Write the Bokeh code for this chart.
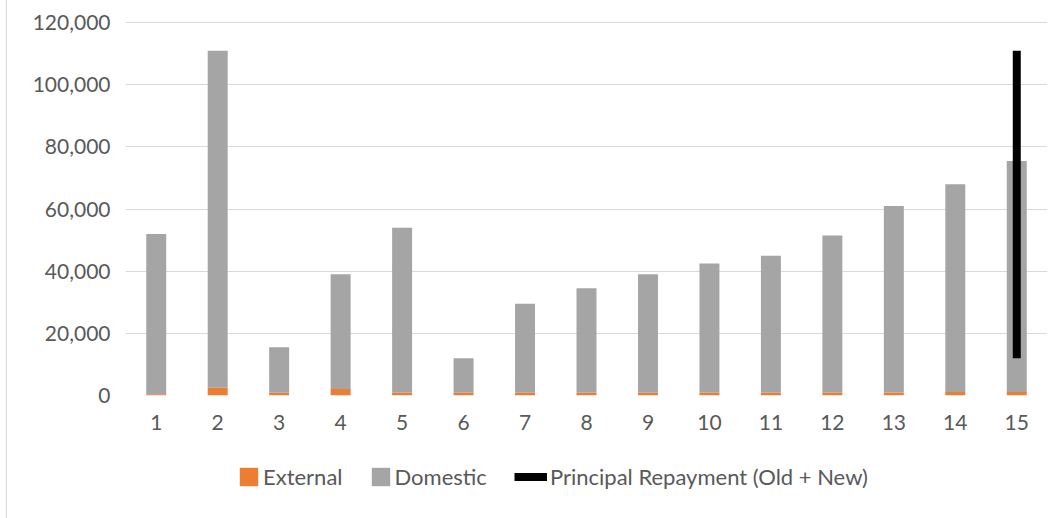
from bokeh.plotting import figure
from bokeh.layouts import column
from bokeh.models import ColumnDataSource, Range1d, FixedTicker, NumeralTickFormatter, Legend, LegendItem
from bokeh.embed import file_html
from bokeh.resources import INLINE

# ---- data ----
years = [1, 2, 3, 4, 5, 6, 7, 8, 9, 10, 11, 12, 13, 14, 15]
external = [400, 2500, 900, 2100, 900, 900, 900, 900, 900, 900, 900, 900, 1000, 1100, 1100]
domestic = [51600, 108500, 14600, 36900, 53100, 11100, 28600, 33600, 38100, 41600, 44100, 50600, 60000, 66900, 74400]
principal_x = [15, 15]
principal_y = [12000, 111000]
y_ticks = [0, 20000, 40000, 60000, 80000, 100000, 120000]

TEXT = "#595959"
FONT = "Lato"
COLORS = ["#ED7D31", "#A5A5A5"]
BORDER = {"border-left": "1px solid #d9d9d9"}

src = ColumnDataSource(dict(year=years, External=external, Domestic=domestic))

# ---- main chart ----
p = figure(width=1056, height=455, output_backend="svg", toolbar_location=None,
           x_range=Range1d(0.5, 15.5), y_range=Range1d(0, 120400),
           min_border_left=118, min_border_right=16, min_border_top=21, min_border_bottom=60)
p.styles = BORDER
p.outline_line_color = None
p.border_fill_color = "white"

p.vbar_stack(["External", "Domestic"], x="year", width=0.325, source=src,
             color=COLORS, line_color=None)
p.line(principal_x, principal_y, line_color="black", line_width=8, line_cap="butt")

p.xgrid.grid_line_color = None
p.ygrid.grid_line_color = "#D9D9D9"
p.ygrid.grid_line_width = 1
p.ygrid.ticker = FixedTicker(ticks=y_ticks)

p.yaxis.ticker = FixedTicker(ticks=y_ticks)
p.yaxis.formatter = NumeralTickFormatter(format="0,0")
p.xaxis.ticker = FixedTicker(ticks=years)
for ax in (p.xaxis, p.yaxis):
    ax.axis_line_color = None
    ax.major_tick_line_color = None
    ax.minor_tick_line_color = None
    ax.major_tick_out = 0
    ax.major_tick_in = 0
    ax.major_label_text_font = FONT
    ax.major_label_text_font_size = "21px"
    ax.major_label_text_color = TEXT
p.yaxis.major_label_standoff = 15
p.xaxis.major_label_standoff = 19

# ---- legend strip (same series as hidden renderers, only the legend shows) ----
q = figure(width=1056, height=63, output_backend="svg", toolbar_location=None,
           x_range=Range1d(0.5, 15.5), y_range=Range1d(0, 120400),
           min_border_left=118, min_border_right=16, min_border_top=0, min_border_bottom=0)
q.styles = BORDER
q.xaxis.visible = False
q.yaxis.visible = False
q.xgrid.visible = False
q.ygrid.visible = False
q.outline_line_color = None
q.border_fill_color = "white"
rs = q.vbar_stack(["External", "Domestic"], x="year", width=0.325, source=src,
                  color=COLORS, line_color=None)
rl = q.line(principal_x, principal_y, line_color="black", line_width=8, line_cap="butt")
for r in list(rs) + [rl]:
    r.visible = False


def style_legend(lg, gw):
    lg.orientation = "horizontal"
    lg.border_line_color = None
    lg.background_fill_alpha = 0
    lg.inactive_fill_alpha = 0
    lg.padding = 0
    lg.margin = 0
    lg.spacing = 26
    lg.glyph_width = gw
    lg.glyph_height = 23
    lg.label_height = 23
    lg.label_standoff = 3
    lg.label_text_font = FONT
    lg.label_text_font_size = "22px"
    lg.label_text_color = TEXT


lg1 = Legend(items=[LegendItem(label="External", renderers=[rs[0]]),
                    LegendItem(label="Domestic", renderers=[rs[1]])],
             location=(112, 28))
style_legend(lg1, 23)
lg2 = Legend(items=[LegendItem(label="Principal Repayment (Old + New)", renderers=[rl])],
             location=(389, 28))
style_legend(lg2, 33)
q.add_layout(lg1, "center")
q.add_layout(lg2, "center")

layout = column(p, q, spacing=0, margin=(0, 0, 0, 6))

open("out.html", "w").write(file_html(layout, INLINE))
